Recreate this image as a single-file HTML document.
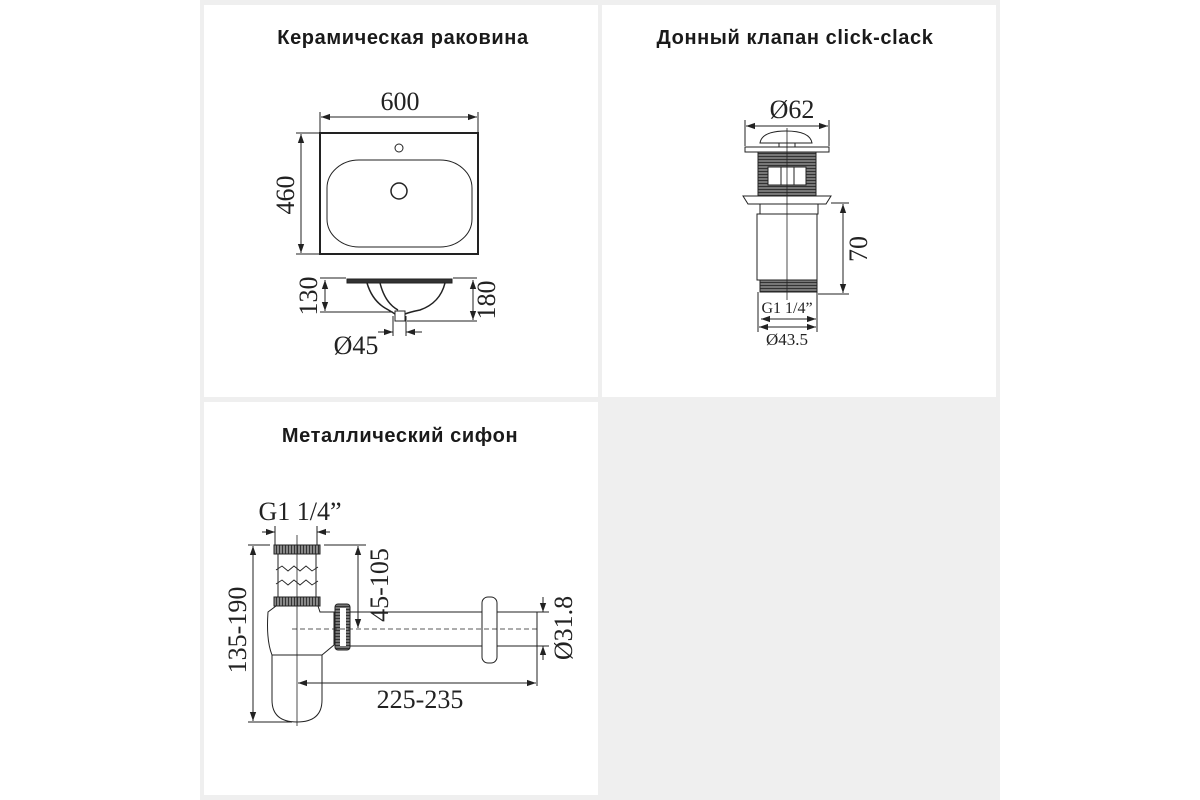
<!DOCTYPE html>
<html><head><meta charset="utf-8"><style>
html,body{margin:0;padding:0;background:#fff;}
svg{display:block;}
.t{font-family:"Liberation Sans","DejaVu Sans",sans-serif;font-weight:bold;font-size:20px;letter-spacing:0.6px;fill:#1a1a1a;}
.d{font-family:"Liberation Serif",serif;font-size:26px;fill:#222;}
.s{font-family:"Liberation Serif",serif;font-size:16px;fill:#222;}
</style></head><body>
<svg width="1200" height="800" viewBox="0 0 1200 800" xmlns="http://www.w3.org/2000/svg">
<defs>
<marker id="a" viewBox="0 0 10 10" refX="10" refY="5" markerWidth="9" markerHeight="9" orient="auto-start-reverse" markerUnits="userSpaceOnUse"><path d="M0,1.5 L10,5 L0,8.5z" fill="#222"/></marker>
<pattern id="h" width="3" height="3" patternUnits="userSpaceOnUse"><rect width="3" height="3" fill="#777"/><rect width="3" height="1" fill="#333"/></pattern>
<pattern id="v" width="3" height="3" patternUnits="userSpaceOnUse"><rect width="3" height="3" fill="#888"/><rect width="1" height="3" fill="#333"/></pattern>
</defs>
<rect x="200" y="0" width="800" height="800" fill="#efefef"/>
<rect x="204" y="5" width="394" height="392" fill="#fff"/>
<rect x="602" y="5" width="394" height="392" fill="#fff"/>
<rect x="204" y="402" width="394" height="393" fill="#fff"/>
<rect x="602" y="402" width="394" height="393" fill="#efefef"/>

<text class="t" x="403" y="44" text-anchor="middle">Керамическая раковина</text>
<text class="t" x="795" y="44" text-anchor="middle">Донный клапан click-clack</text>
<text class="t" x="400" y="442" text-anchor="middle">Металлический сифон</text>

<g stroke="#222" fill="none" stroke-width="1">
<rect x="320" y="133" width="158" height="121" stroke-width="2"/>
<rect x="327" y="160" width="145" height="87" rx="32" ry="28"/>
<circle cx="399" cy="148" r="4"/>
<circle cx="399" cy="191" r="8" stroke-width="1.5"/>
<line x1="320" y1="112" x2="320" y2="132"/><line x1="478" y1="112" x2="478" y2="132"/>
<line x1="321" y1="117" x2="477" y2="117" marker-start="url(#a)" marker-end="url(#a)"/>
<line x1="296" y1="133" x2="319" y2="133"/><line x1="296" y1="254" x2="319" y2="254"/>
<line x1="301" y1="134" x2="301" y2="253" marker-start="url(#a)" marker-end="url(#a)"/>
<rect x="347" y="279" width="105" height="4" fill="#333"/>
<path d="M367,283 Q372,300 385,308 Q392,312 395,314 M380,283 Q385,303 398,310 M445,283 Q440,303 420,310 Q410,312 405,314" stroke-width="1.5"/>
<rect x="395" y="311" width="10" height="10"/>
<line x1="320" y1="278" x2="346" y2="278"/><line x1="453" y1="278" x2="477" y2="278"/>
<line x1="320" y1="312" x2="393" y2="312"/><line x1="407" y1="321" x2="477" y2="321"/>
<line x1="325" y1="280" x2="325" y2="311" marker-start="url(#a)" marker-end="url(#a)"/>
<line x1="473" y1="280" x2="473" y2="320" marker-start="url(#a)" marker-end="url(#a)"/>
<line x1="393" y1="316" x2="393" y2="336"/><line x1="406" y1="316" x2="406" y2="336"/>
<line x1="378" y1="332" x2="393" y2="332" marker-end="url(#a)"/>
<line x1="422" y1="332" x2="406" y2="332" marker-end="url(#a)"/>

<line x1="745" y1="120" x2="745" y2="146"/><line x1="829" y1="120" x2="829" y2="146"/>
<line x1="746" y1="126" x2="828" y2="126" marker-start="url(#a)" marker-end="url(#a)"/>
<path d="M760,143 Q762,131 786,131 Q810,131 812,143 Z"/>
<rect x="779" y="143" width="16" height="4"/>
<rect x="745" y="147" width="84" height="5" fill="#fff"/>
<rect x="758" y="152" width="58" height="44" fill="url(#h)"/>
<rect x="768" y="167" width="38" height="18" fill="#fff"/>
<line x1="781" y1="167" x2="781" y2="185"/><line x1="794" y1="167" x2="794" y2="185"/>
<path d="M743,196 L831,196 L826,204 L748,204 Z" fill="#fff"/>
<rect x="760" y="204" width="58" height="10" fill="#fff"/>
<rect x="757" y="214" width="60" height="66" fill="#fff"/>
<rect x="760" y="280" width="57" height="12" fill="url(#h)"/>
<line x1="787" y1="128" x2="787" y2="300" stroke-width="0.8"/>
<line x1="831" y1="203" x2="849" y2="203"/><line x1="818" y1="294" x2="849" y2="294"/>
<line x1="843" y1="204" x2="843" y2="293" marker-start="url(#a)" marker-end="url(#a)"/>
<line x1="758" y1="292" x2="758" y2="332"/><line x1="817" y1="292" x2="817" y2="332"/>
<line x1="761" y1="319" x2="816" y2="319" marker-start="url(#a)" marker-end="url(#a)"/>
<line x1="759" y1="327" x2="816" y2="327" marker-start="url(#a)" marker-end="url(#a)"/>

<line x1="275" y1="526" x2="275" y2="545"/><line x1="317" y1="526" x2="317" y2="545"/>
<line x1="262" y1="532" x2="275" y2="532" marker-end="url(#a)"/>
<line x1="330" y1="532" x2="317" y2="532" marker-end="url(#a)"/>
<rect x="274" y="545" width="46" height="9" fill="url(#v)"/>
<line x1="278" y1="554" x2="278" y2="597"/><line x1="316" y1="554" x2="316" y2="597"/>
<path d="M276,570 l6,-4 l6,5 l6,-5 l6,5 l6,-5 l6,5 l6,-4 M276,584 l6,-4 l6,5 l6,-5 l6,5 l6,-5 l6,5 l6,-4" stroke-width="0.9"/>
<rect x="274" y="597" width="46" height="9" fill="url(#v)"/>
<path d="M276,606 L318,606 L320,612 L334,612 L334,645 L322,655 L272,655 Q266,640 268,612 Z" fill="#fff"/>
<path d="M272,655 L272,700 Q272,722 297,722 Q322,722 322,700 L322,655"/>
<rect x="335" y="604" width="15" height="46" rx="3" fill="url(#h)"/>
<rect x="340" y="608" width="6" height="38" fill="#fff" stroke="none"/>
<rect x="350" y="612" width="132" height="34"/>
<rect x="482" y="597" width="15" height="66" rx="6" fill="#fff"/>
<rect x="497" y="612" width="40" height="34"/>
<line x1="297" y1="535" x2="297" y2="726" stroke-width="0.8"/>
<line x1="292" y1="629" x2="540" y2="629" stroke-dasharray="5,3" stroke-width="0.8"/>
<line x1="248" y1="545" x2="270" y2="545"/><line x1="248" y1="722" x2="292" y2="722"/>
<line x1="253" y1="546" x2="253" y2="721" marker-start="url(#a)" marker-end="url(#a)"/>
<line x1="324" y1="545" x2="366" y2="545"/>
<line x1="358" y1="546" x2="358" y2="628" marker-start="url(#a)" marker-end="url(#a)"/>
<line x1="298" y1="683" x2="536" y2="683" marker-start="url(#a)" marker-end="url(#a)"/>
<line x1="537" y1="646" x2="537" y2="686"/>
<line x1="537" y1="612" x2="549" y2="612"/><line x1="537" y1="646" x2="549" y2="646"/>
<line x1="543" y1="597" x2="543" y2="612" marker-end="url(#a)"/>
<line x1="543" y1="660" x2="543" y2="646" marker-end="url(#a)"/>
</g>

<text class="d" x="400" y="110" text-anchor="middle">600</text>
<text class="d" transform="translate(294,195) rotate(-90)" text-anchor="middle">460</text>
<text class="d" transform="translate(317,296) rotate(-90)" text-anchor="middle">130</text>
<text class="d" transform="translate(495,300) rotate(-90)" text-anchor="middle">180</text>
<text class="d" x="356" y="354" text-anchor="middle">Ø45</text>

<text class="d" x="792" y="118" text-anchor="middle">Ø62</text>
<text class="d" transform="translate(867,249) rotate(-90)" text-anchor="middle">70</text>
<text class="s" x="787" y="313" text-anchor="middle">G1 1/4”</text>
<text class="s" x="787" y="345" text-anchor="middle" style="font-size:17px">Ø43.5</text>

<text class="d" x="300" y="520" text-anchor="middle">G1 1/4”</text>
<text class="d" transform="translate(246,630) rotate(-90)" text-anchor="middle">135-190</text>
<text class="d" transform="translate(388,585) rotate(-90)" text-anchor="middle">45-105</text>
<text class="d" x="420" y="708" text-anchor="middle">225-235</text>
<text class="d" transform="translate(572,628) rotate(-90)" text-anchor="middle">Ø31.8</text>
</svg>
</body></html>
